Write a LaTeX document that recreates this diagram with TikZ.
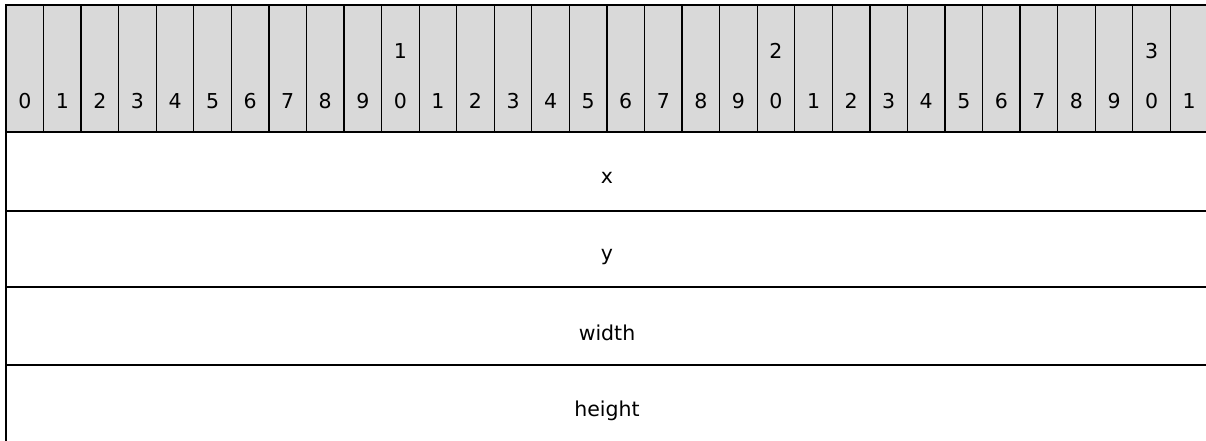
\documentclass[tikz,border=0pt]{standalone}
\usepackage{fontspec}
\setmainfont{DejaVu Sans}
\definecolor{hdrgray}{RGB}{217,217,217}
\begin{document}
\begin{tikzpicture}[x=1pt,y=-1pt,
  hdr/.style={draw=black,line width=1.3pt,fill=hdrgray,inner sep=0pt,outer sep=0pt,
    minimum width=37.56pt,minimum height=127pt,anchor=north west},
  fieldbox/.style={draw=black,line width=1.3pt,fill=white,inner sep=0pt,outer sep=0pt,
    minimum width=1202pt,anchor=north west},
  num/.style={inner sep=0pt,anchor=base,text=black,font=\fontsize{20.5pt}{24pt}\selectfont},
  lbl/.style={inner sep=0pt,anchor=base,text=black,font=\fontsize{20.5pt}{24pt}\selectfont}]
\clip (0,0) rectangle (1206,440);
% fields
\node[fieldbox,minimum height=79pt] (fx) at (6,132) {};
\node[fieldbox,minimum height=76pt] (fy) at (6,211) {};
\node[fieldbox,minimum height=78pt] (fw) at (6,287) {};
\node[fieldbox,minimum height=77pt] (fh) at (6,365) {};
\node[lbl] (tx) at ([yshift=-51pt]fx.north) {x};
\node[lbl] (ty) at ([yshift=-49pt]fy.north) {y};
\node[lbl] (tw) at ([yshift=-53pt]fw.north) {width};
\node[lbl] (th) at ([yshift=-51pt]fh.north) {height};
% header bits
\foreach \i in {0,...,31}{
  \pgfmathtruncatemacro\u{mod(\i,10)}
  \pgfmathtruncatemacro\t{div(\i,10)}
  \node[hdr] (b\i) at ({6+\i*37.56},5) {};
  \node[num] (u\i) at ([yshift=-103pt]b\i.north) {\u};
  \ifnum\i>0 \ifnum\u=0
    \node[num] (t\i) at ([yshift=-53pt]b\i.north) {\t};
  \fi\fi
}
\end{tikzpicture}
\end{document}
